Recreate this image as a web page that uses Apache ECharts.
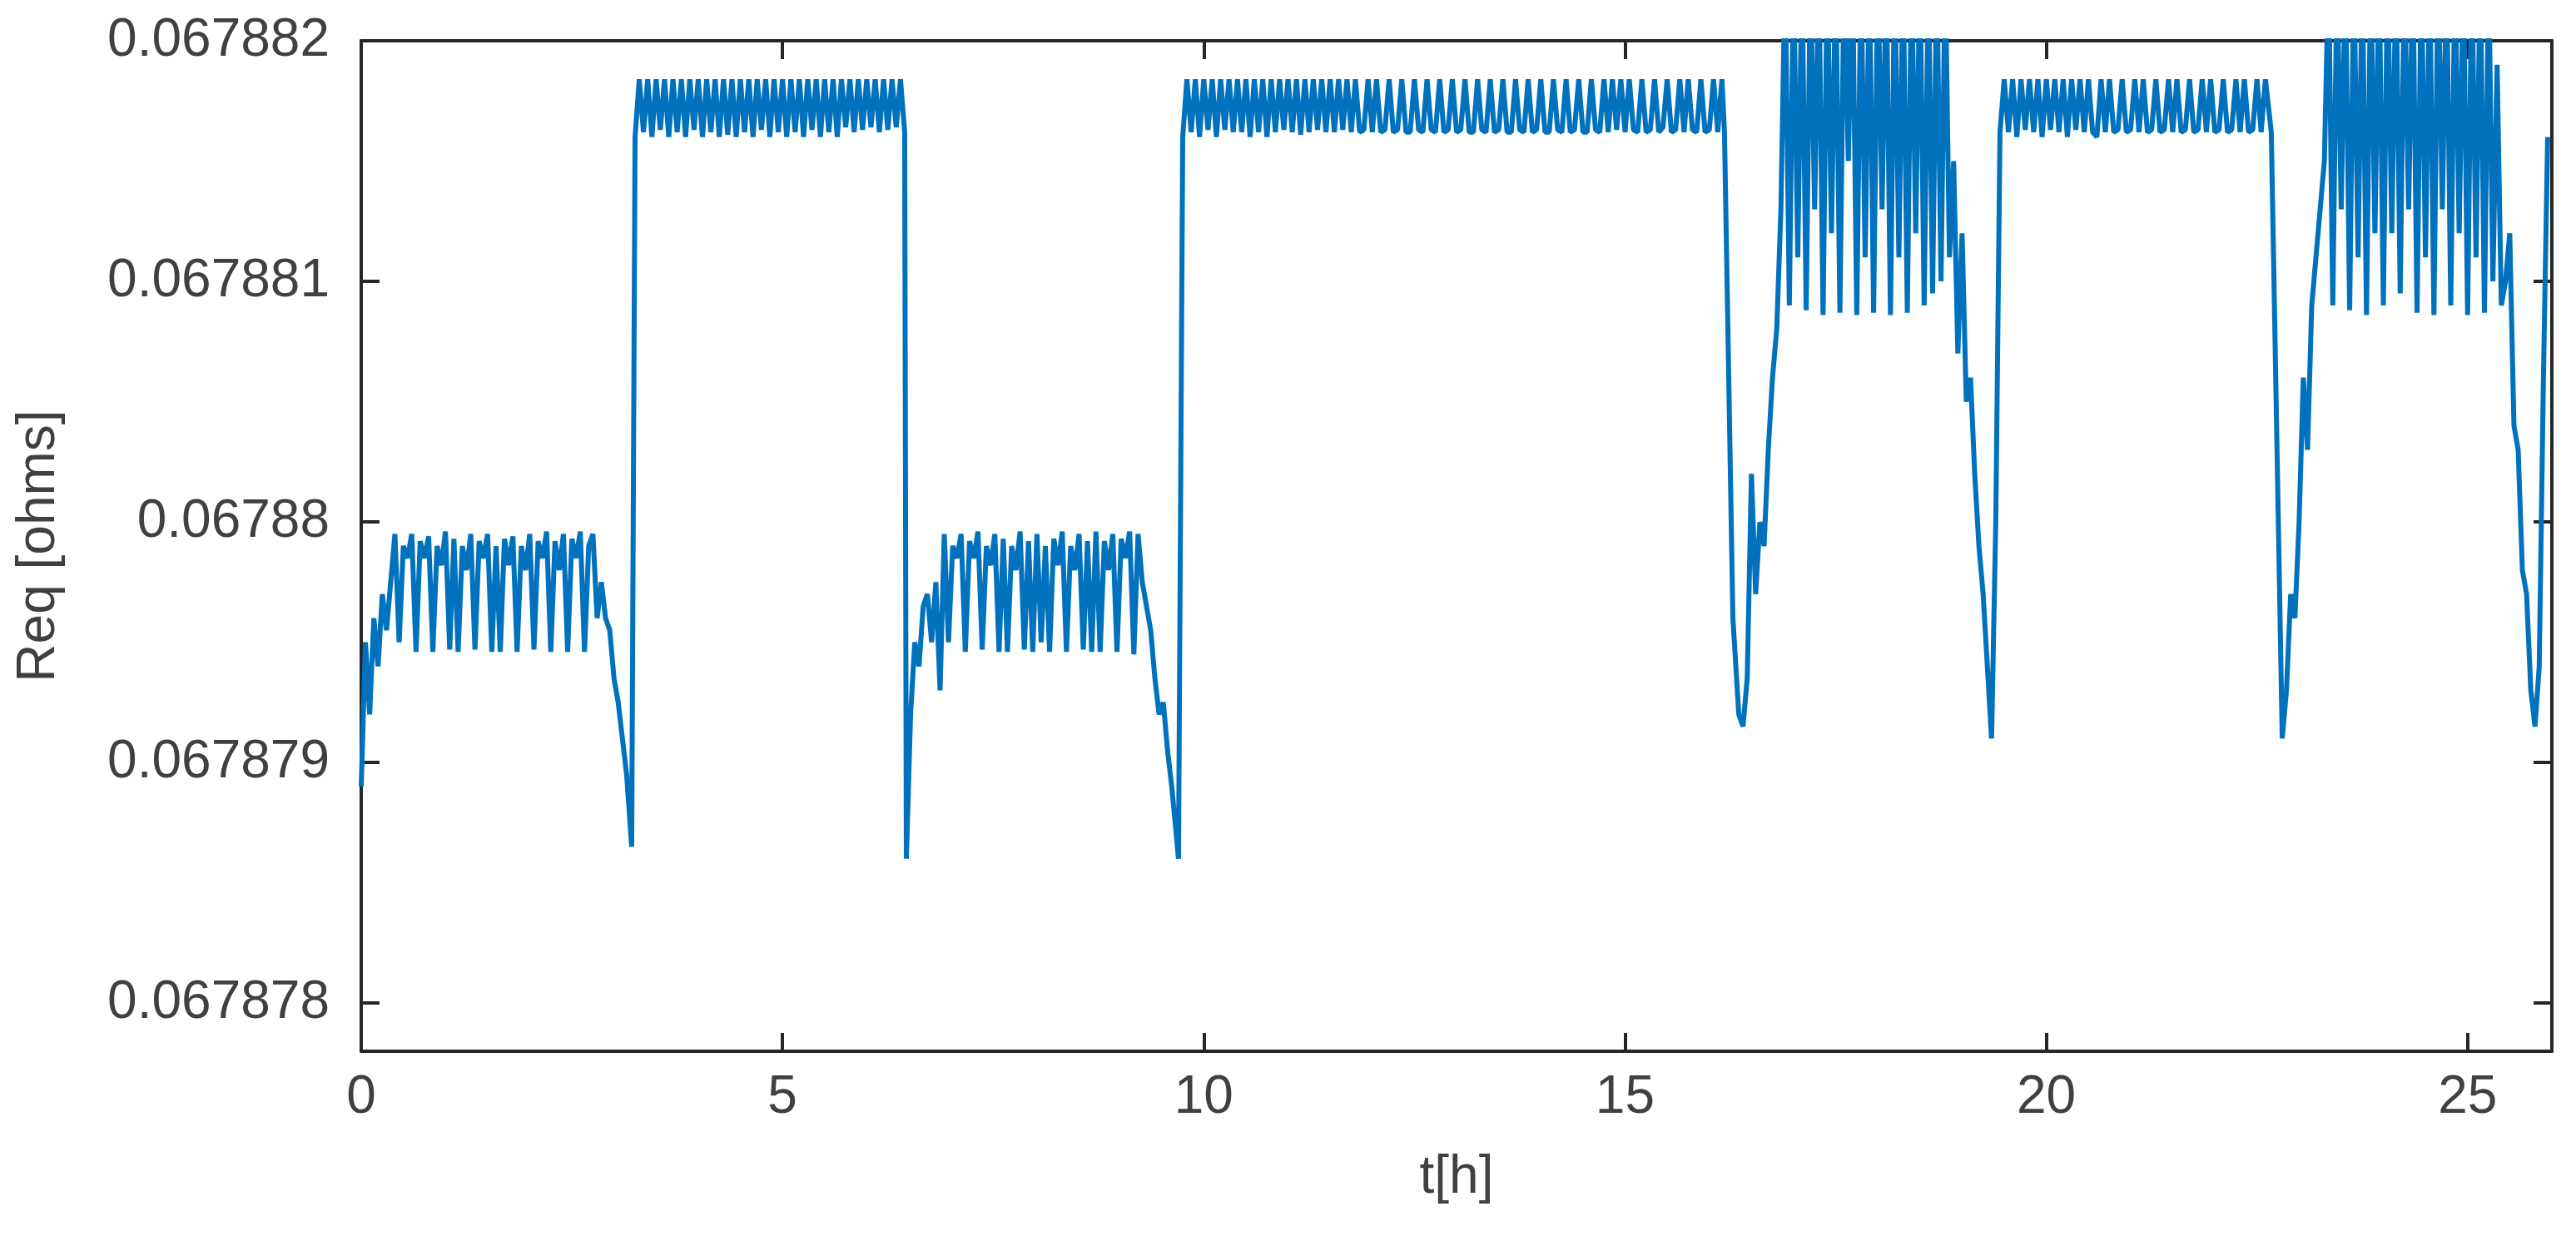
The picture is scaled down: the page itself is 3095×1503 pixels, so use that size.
<!DOCTYPE html>
<html><head><meta charset="utf-8">
<script src="https://cdn.jsdelivr.net/npm/echarts@6/dist/echarts.min.js"></script>
<style>html,body{margin:0;background:#fff}#c{width:3095px;height:1503px}</style>
</head><body><div id="c"></div>
<script>
// Req is stored as offset above BASE, in micro-ohms
const BASE = 0.067878;
const yTicks = [0, 1, 2, 3, 4];
const xTicks = [0, 5, 10, 15, 20, 25];

const segA = [[0,0.9],[0.05,1.5],[0.1,1.2],[0.15,1.6],[0.2,1.4],[0.25,1.7],[0.3,1.55],[0.35,1.75],[0.4,1.95],[0.45,1.5],[0.5,1.9],[0.55,1.85],[0.6,1.95],[0.65,1.46],[0.7,1.92],[0.75,1.85],[0.8,1.94],[0.85,1.46],[0.9,1.9],[0.95,1.82],[1.0,1.96],[1.05,1.47],[1.1,1.93],[1.15,1.46],[1.2,1.9],[1.25,1.8],[1.3,1.95],[1.35,1.47],[1.4,1.92],[1.45,1.85],[1.5,1.95],[1.55,1.46],[1.6,1.9],[1.65,1.46],[1.7,1.93],[1.75,1.82],[1.8,1.94],[1.85,1.46],[1.9,1.9],[1.95,1.8],[2.0,1.95],[2.05,1.47],[2.1,1.92],[2.15,1.85],[2.2,1.96],[2.25,1.46],[2.3,1.92],[2.35,1.8],[2.4,1.95],[2.45,1.46],[2.5,1.93],[2.55,1.85],[2.6,1.96],[2.65,1.46],[2.7,1.9],[2.75,1.95],[2.8,1.6],[2.85,1.75],[2.9,1.6],[2.95,1.55],[3.0,1.35],[3.05,1.25],[3.1,1.1],[3.15,0.95],[3.21,0.65]];
const segB = [[3.25,3.6],[3.3,3.84],[3.35,3.62],[3.4,3.84],[3.45,3.6],[3.5,3.84],[3.55,3.63],[3.6,3.84],[3.65,3.6],[3.7,3.84],[3.75,3.62],[3.8,3.84],[3.85,3.6],[3.9,3.84],[3.95,3.63],[4.0,3.84],[4.05,3.6],[4.1,3.84],[4.15,3.62],[4.2,3.84],[4.25,3.6],[4.3,3.84],[4.35,3.61],[4.4,3.84],[4.45,3.6],[4.5,3.84],[4.55,3.62],[4.6,3.84],[4.65,3.6],[4.7,3.84],[4.75,3.63],[4.8,3.84],[4.85,3.6],[4.9,3.84],[4.95,3.62],[5.0,3.84],[5.05,3.6],[5.1,3.84],[5.15,3.62],[5.2,3.84],[5.25,3.6],[5.3,3.84],[5.35,3.63],[5.4,3.84],[5.45,3.6],[5.5,3.84],[5.55,3.62],[5.6,3.84],[5.65,3.6],[5.7,3.84],[5.75,3.64],[5.8,3.84],[5.85,3.62],[5.9,3.84],[5.95,3.63],[6.0,3.84],[6.05,3.64],[6.1,3.84],[6.15,3.62],[6.2,3.84],[6.25,3.63],[6.3,3.84],[6.35,3.64],[6.4,3.84],[6.45,3.62]];
const segC = [[6.47,0.6],[6.52,1.2],[6.57,1.5],[6.62,1.4],[6.67,1.65],[6.72,1.7],[6.77,1.5],[6.82,1.75],[6.87,1.3],[6.92,1.95],[6.97,1.5],[7.02,1.9],[7.07,1.85],[7.12,1.95],[7.17,1.46],[7.22,1.92],[7.27,1.85],[7.32,1.96],[7.37,1.47],[7.42,1.9],[7.47,1.82],[7.52,1.95],[7.57,1.46],[7.62,1.93],[7.67,1.46],[7.72,1.9],[7.77,1.8],[7.82,1.96],[7.87,1.47],[7.92,1.92],[7.97,1.46],[8.02,1.95],[8.07,1.5],[8.12,1.9],[8.17,1.46],[8.22,1.93],[8.27,1.82],[8.32,1.96],[8.37,1.46],[8.42,1.9],[8.47,1.8],[8.52,1.95],[8.57,1.47],[8.62,1.92],[8.67,1.46],[8.72,1.96],[8.77,1.46],[8.82,1.92],[8.87,1.8],[8.92,1.95],[8.97,1.46],[9.02,1.93],[9.07,1.85],[9.12,1.96],[9.17,1.45],[9.22,1.95],[9.27,1.75],[9.32,1.65],[9.37,1.55],[9.42,1.35],[9.47,1.2],[9.52,1.25],[9.57,1.05],[9.62,0.9],[9.7,0.6]];
const segD = [[9.75,3.6],[9.8,3.84],[9.85,3.62],[9.9,3.84],[9.95,3.6],[10.0,3.84],[10.05,3.63],[10.1,3.84],[10.15,3.6],[10.2,3.84],[10.25,3.63],[10.3,3.84],[10.35,3.62],[10.4,3.84],[10.45,3.62],[10.5,3.84],[10.55,3.6],[10.6,3.84],[10.65,3.62],[10.7,3.84],[10.75,3.6],[10.8,3.84],[10.85,3.62],[10.9,3.84],[10.95,3.63],[11.0,3.84],[11.05,3.62],[11.1,3.84],[11.15,3.61],[11.2,3.84],[11.25,3.62],[11.3,3.84],[11.35,3.63],[11.4,3.84],[11.45,3.62],[11.5,3.84],[11.55,3.62],[11.6,3.84],[11.65,3.63],[11.7,3.84],[11.75,3.62],[11.8,3.84],[11.85,3.62],[11.9,3.63],[11.95,3.84],[12.0,3.62],[12.05,3.84],[12.1,3.62],[12.15,3.63],[12.2,3.84],[12.25,3.62],[12.3,3.63],[12.35,3.84],[12.4,3.62],[12.45,3.62],[12.5,3.84],[12.55,3.63],[12.6,3.62],[12.65,3.84],[12.7,3.63],[12.75,3.62],[12.8,3.84],[12.85,3.62],[12.9,3.63],[12.95,3.84],[13.0,3.62],[13.05,3.63],[13.1,3.84],[13.15,3.62],[13.2,3.62],[13.25,3.84],[13.3,3.63],[13.35,3.62],[13.4,3.84],[13.45,3.62],[13.5,3.63],[13.55,3.84],[13.6,3.62],[13.65,3.62],[13.7,3.84],[13.75,3.63],[13.8,3.62],[13.85,3.84],[13.9,3.62],[13.95,3.63],[14.0,3.84],[14.05,3.62],[14.1,3.62],[14.15,3.84],[14.2,3.63],[14.25,3.62],[14.3,3.84],[14.35,3.62],[14.4,3.63],[14.45,3.84],[14.5,3.62],[14.55,3.62],[14.6,3.84],[14.65,3.63],[14.7,3.62],[14.75,3.84],[14.8,3.62],[14.85,3.84],[14.9,3.63],[14.95,3.84],[15.0,3.62],[15.05,3.84],[15.1,3.63],[15.15,3.62],[15.2,3.84],[15.25,3.62],[15.3,3.63],[15.35,3.84],[15.4,3.62],[15.45,3.64],[15.5,3.84],[15.55,3.62],[15.6,3.63],[15.65,3.84],[15.7,3.62],[15.75,3.84],[15.8,3.63],[15.85,3.62],[15.9,3.84],[15.95,3.62],[16.0,3.63],[16.05,3.84],[16.1,3.62],[16.15,3.84],[16.18,3.62]];
const segE = [[16.28,1.6],[16.35,1.2],[16.4,1.15],[16.45,1.35],[16.5,2.2],[16.55,1.7],[16.6,2.0],[16.65,1.9],[16.7,2.3],[16.75,2.6],[16.8,2.8],[16.85,3.3],[16.9,4.3],[16.95,2.9],[17.0,4.3],[17.05,3.1],[17.1,4.3],[17.15,2.88],[17.2,4.3],[17.25,3.3],[17.3,4.3],[17.35,2.86],[17.4,4.3],[17.45,3.2],[17.5,4.3],[17.55,2.87],[17.6,4.3],[17.65,3.5],[17.7,4.3],[17.75,2.86],[17.8,4.3],[17.85,3.1],[17.9,4.3],[17.95,2.87],[18.0,4.3],[18.05,3.3],[18.1,4.3],[18.15,2.86],[18.2,4.3],[18.25,3.1],[18.3,4.3],[18.35,2.87],[18.4,4.3],[18.45,3.2],[18.5,4.3],[18.55,2.9],[18.6,4.3],[18.65,2.95],[18.7,4.3],[18.75,3.0],[18.8,4.3],[18.85,3.1],[18.9,3.5],[18.95,2.7],[19.0,3.2],[19.05,2.5],[19.1,2.6],[19.15,2.2],[19.2,1.9],[19.25,1.7],[19.3,1.4],[19.35,1.1],[19.4,2.0],[19.45,3.62]];
const segF = [[19.5,3.84],[19.55,3.62],[19.6,3.84],[19.65,3.6],[19.7,3.84],[19.75,3.63],[19.8,3.84],[19.85,3.62],[19.9,3.84],[19.95,3.6],[20.0,3.84],[20.05,3.63],[20.1,3.84],[20.15,3.62],[20.2,3.84],[20.25,3.6],[20.3,3.84],[20.35,3.63],[20.4,3.84],[20.45,3.62],[20.5,3.84],[20.55,3.62],[20.6,3.6],[20.65,3.84],[20.7,3.62],[20.75,3.84],[20.8,3.62],[20.85,3.63],[20.9,3.84],[20.95,3.62],[21.0,3.63],[21.05,3.84],[21.1,3.62],[21.15,3.84],[21.2,3.62],[21.25,3.63],[21.3,3.84],[21.35,3.62],[21.4,3.63],[21.45,3.84],[21.5,3.62],[21.55,3.84],[21.6,3.62],[21.65,3.63],[21.7,3.84],[21.75,3.62],[21.8,3.63],[21.85,3.84],[21.9,3.62],[21.95,3.84],[22.0,3.62],[22.05,3.63],[22.1,3.84],[22.15,3.62],[22.2,3.63],[22.25,3.84],[22.3,3.62],[22.35,3.84],[22.4,3.62],[22.45,3.63],[22.5,3.84],[22.55,3.62],[22.6,3.84],[22.67,3.62]];
const segG = [[22.8,1.1],[22.85,1.3],[22.9,1.7],[22.95,1.6],[23.0,2.0],[23.05,2.6],[23.1,2.3],[23.15,2.9],[23.2,3.1],[23.25,3.3],[23.3,3.5],[23.35,4.3],[23.4,2.9],[23.45,4.3],[23.5,3.3],[23.55,4.3],[23.6,2.88],[23.65,4.3],[23.7,3.1],[23.75,4.3],[23.8,2.86],[23.85,4.3],[23.9,3.2],[23.95,4.3],[24.0,2.9],[24.05,4.3],[24.1,3.2],[24.15,4.3],[24.2,2.95],[24.25,4.3],[24.3,3.3],[24.35,4.3],[24.4,2.87],[24.45,4.3],[24.5,3.1],[24.55,4.3],[24.6,2.86],[24.65,4.3],[24.7,3.3],[24.75,4.3],[24.8,2.9],[24.85,4.3],[24.9,3.2],[24.95,4.3],[25.0,2.86],[25.05,4.3],[25.1,3.1],[25.15,4.3],[25.2,2.87],[25.25,4.3],[25.3,3.0],[25.35,3.9],[25.4,2.9],[25.45,3.0],[25.5,3.2],[25.55,2.4],[25.6,2.3],[25.65,1.8],[25.7,1.7],[25.75,1.3],[25.8,1.15],[25.85,1.4],[25.9,2.6],[25.95,3.6]];

const series = [].concat(segA, segB, segC, segD, segE, segF, segG);
const fmt = v => String(parseFloat((BASE + v * 1e-6).toFixed(6)));
const txt = {color:'#404040', fontFamily:'Liberation Sans, Arial, sans-serif', fontSize:64};
const axLine = {show:true, onZero:false, lineStyle:{color:'#262626', width:4}};
const tick = {show:true, inside:true, length:22, lineStyle:{color:'#262626', width:4}};

const chart = echarts.init(document.getElementById('c'));
chart.setOption({
  animation:false,
  grid:{left:434, right:29, top:49, bottom:240},
  xAxis:[
    {type:'value', min:0, max:26, position:'bottom', axisLine:axLine,
     axisTick:Object.assign({customValues:xTicks}, tick),
     axisLabel:Object.assign({customValues:xTicks, margin:24}, txt), splitLine:{show:false},
     name:'t[h]', nameLocation:'middle', nameGap:120, nameTextStyle:txt},
    {type:'value', min:0, max:26, position:'top', axisLine:axLine,
     axisTick:Object.assign({customValues:xTicks}, tick), axisLabel:{show:false}, splitLine:{show:false}}
  ],
  yAxis:[
    {type:'value', min:-0.2, max:4, position:'left', axisLine:axLine,
     axisTick:Object.assign({customValues:yTicks}, tick),
     axisLabel:Object.assign({customValues:yTicks, margin:38, formatter:fmt}, txt), splitLine:{show:false},
     name:'Req [ohms]', nameLocation:'middle', nameGap:355, nameRotate:90, nameTextStyle:txt},
    {type:'value', min:-0.2, max:4, position:'right', axisLine:axLine,
     axisTick:Object.assign({customValues:yTicks}, tick), axisLabel:{show:false}, splitLine:{show:false}}
  ],
  series:[{type:'line', data:series, showSymbol:false, clip:true,
    lineStyle:{color:'#0072BD', width:6}}]
});
</script></body></html>
